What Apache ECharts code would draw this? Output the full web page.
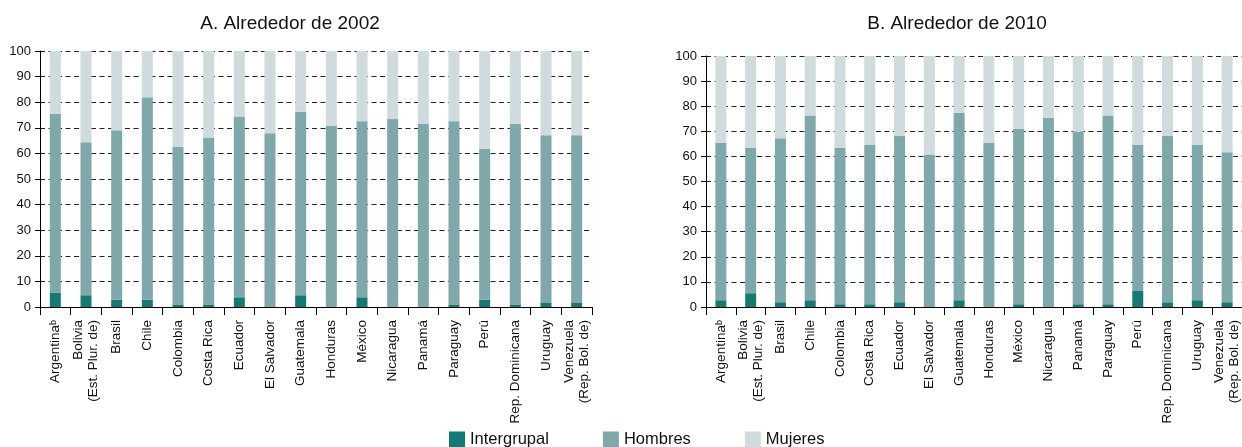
<!DOCTYPE html>
<html>
<head>
<meta charset="utf-8">
<script src="https://cdn.jsdelivr.net/npm/echarts@6/dist/echarts.min.js"></script>
<style>html,body{margin:0;padding:0;background:#fff;}#c{width:1242px;height:447px;}</style>
</head>
<body>
<div id="c"></div>
<script>
const categories = ['Argentinaᵇ','Bolivia\n(Est. Plur. de)','Brasil','Chile','Colombia','Costa Rica','Ecuador','El Salvador','Guatemala','Honduras','México','Nicaragua','Panamá','Paraguay','Perú','Rep. Dominicana','Uruguay','Venezuela\n(Rep. Bol. de)'];
const seriesNames = ['Intergrupal','Hombres','Mujeres'];
const titles = ['A. Alrededor de 2002','B. Alrededor de 2010'];
const yTicks = [0,10,20,30,40,50,60,70,80,90,100];

const intergrupal2002 = [5.6,4.6,2.9,2.9,1.0,1.0,3.8,0,4.6,0,3.8,0,0,1.0,2.9,1.0,1.8,1.8];
const hombres2002 = [69.8,59.8,66.1,79.0,61.5,65.2,70.6,67.9,71.7,70.7,68.8,73.4,71.6,71.6,58.8,70.6,65.3,65.3];
const mujeres2002 = [24.6,35.6,31.0,18.1,37.5,33.8,25.6,32.1,23.7,29.3,27.4,26.6,28.4,27.4,38.3,28.4,32.9,32.9];

const intergrupal2010 = [2.7,5.5,1.9,2.7,1.1,1.1,1.9,0,2.7,0,1.1,0,1.1,1.1,6.4,1.9,2.7,1.9];
const hombres2010 = [62.6,57.9,65.3,73.6,62.3,63.4,66.2,60.8,74.6,65.3,69.8,75.4,68.7,75.2,58.1,66.2,61.8,59.8];
const mujeres2010 = [34.7,36.6,32.8,23.7,36.6,35.5,31.9,39.2,22.7,34.7,29.1,24.6,30.2,23.7,35.5,31.9,35.5,38.3];

const colors = ['#167a74','#7fa8ab','#cfdbdd'];
const FONT = '"Liberation Sans", Arial, Helvetica, sans-serif';

function xAxis(i){
  return {
    type:'category', gridIndex:i, data:categories, boundaryGap:true,
    axisLine:{show:true,lineStyle:{color:'#000',width:1}},
    axisTick:{show:true,length:8,lineStyle:{color:'#000'}},
    axisLabel:{rotate:90,interval:0,margin:13,fontSize:13.5,color:'#111',fontFamily:FONT,lineHeight:15}
  };
}
function yAxis(i){
  return {
    type:'value', gridIndex:i, min:yTicks[0], max:yTicks[yTicks.length-1], interval:10,
    axisLine:{show:true,lineStyle:{color:'#000',width:1}},
    axisTick:{show:true,length:5,lineStyle:{color:'#000'}},
    axisLabel:{margin:9,fontSize:13,color:'#111',fontFamily:FONT},
    splitLine:{show:true,lineStyle:{color:'#222',type:[5,3.5],width:1}}
  };
}
function bar(name, data, idx, stack){
  return {name:name,type:'bar',stack:stack,xAxisIndex:idx,yAxisIndex:idx,data:data,barWidth:11,
    itemStyle:{color:colors[seriesNames.indexOf(name)]}, emphasis:{disabled:true}};
}

const chart = echarts.init(document.getElementById('c'), null, {renderer:'canvas'});
chart.setOption({
  animation:false,
  color:colors,
  textStyle:{fontFamily:FONT},
  title:[
    {text:titles[0],left:285,top:9,textAlign:'center',textStyle:{fontSize:19,fontWeight:'normal',color:'#111',fontFamily:FONT}},
    {text:titles[1],left:952,top:9,textAlign:'center',textStyle:{fontSize:19,fontWeight:'normal',color:'#111',fontFamily:FONT}}
  ],
  legend:{
    data:seriesNames, left:444, top:426, itemWidth:16, itemHeight:16, itemGap:54, icon:'rect',
    textStyle:{fontSize:16.5,color:'#111',fontFamily:FONT}, selectedMode:false
  },
  grid:[
    {left:40,width:552,top:51,bottom:140,containLabel:false},
    {left:706,width:544,top:56,bottom:140,containLabel:false}
  ],
  xAxis:[xAxis(0),xAxis(1)],
  yAxis:[yAxis(0),yAxis(1)],
  series:[
    bar('Intergrupal',intergrupal2002,0,'A'),
    bar('Hombres',hombres2002,0,'A'),
    bar('Mujeres',mujeres2002,0,'A'),
    bar('Intergrupal',intergrupal2010,1,'B'),
    bar('Hombres',hombres2010,1,'B'),
    bar('Mujeres',mujeres2010,1,'B')
  ]
});
</script>
</body>
</html>
